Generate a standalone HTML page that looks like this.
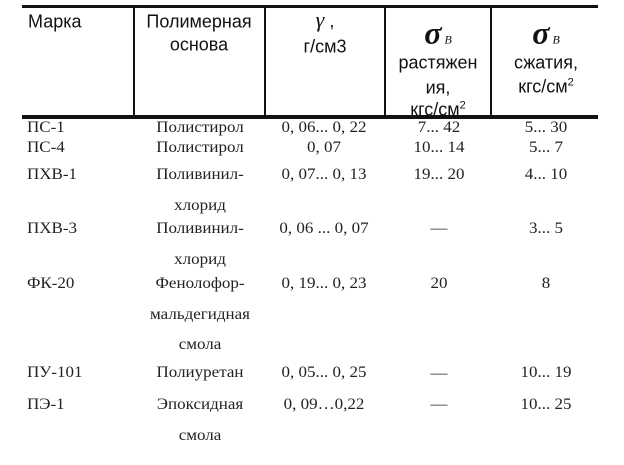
<!DOCTYPE html>
<html><head><meta charset="utf-8"><style>
html,body{margin:0;padding:0;background:#fff;}
#c{position:relative;width:624px;height:465px;overflow:hidden;background:#fff;}
.h{position:absolute;font-family:"Liberation Sans",sans-serif;font-size:18px;color:#111;white-space:nowrap;transform:translate(-50%,-50%);}
.b{position:absolute;font-family:"Liberation Serif",serif;font-size:17px;color:#222;white-space:nowrap;transform:translate(-50%,-50%) scaleY(0.95);}
.l{transform:translate(0,-50%) scaleY(0.95);}
.hl{transform:translate(0,-50%);}
.ln{position:absolute;background:#111;}
.s{position:absolute;font-family:"Liberation Serif",serif;font-style:italic;font-weight:bold;font-size:32px;color:#111;transform:translate(-50%,-50%);white-space:nowrap;}
.s sub{font-size:12px;font-weight:normal;vertical-align:baseline;margin-left:3px;}
sup{font-size:11px;vertical-align:top;}
</style></head><body><div id="c">
<div class="ln" style="left:22px;top:5px;width:576px;height:3px"></div>
<div class="ln" style="left:133px;top:6px;width:2px;height:110px"></div>
<div class="ln" style="left:264px;top:6px;width:2px;height:110px"></div>
<div class="ln" style="left:384px;top:6px;width:2px;height:110px"></div>
<div class="ln" style="left:490px;top:6px;width:2px;height:110px"></div>

<div class="h hl" style="left:28px;top:22px">Марка</div>
<div class="h" style="left:199px;top:22px">Полимерная</div>
<div class="h" style="left:199px;top:45px">основа</div>
<div class="h" style="left:325px;top:20px"><span style="font-family:'Liberation Serif',serif;font-style:italic;font-size:22px">γ</span> ,</div>
<div class="h" style="left:325px;top:47px">г/см3</div>
<div class="s" style="left:438px;top:33px">σ<sub>В</sub></div>
<div class="h" style="left:438px;top:63px">растяжен</div>
<div class="h" style="left:438px;top:88px">ия,</div>
<div class="h" style="left:438px;top:110px">кгс/см<sup>2</sup></div>
<div class="ln" style="left:22px;top:115px;width:576px;height:4px"></div>
<div class="s" style="left:546px;top:33px">σ<sub>В</sub></div>
<div class="h" style="left:546px;top:63px">сжатия,</div>
<div class="h" style="left:546px;top:87px">кгс/см<sup>2</sup></div>

<div class="b l" style="left:27px;top:127px">ПС-1</div>
<div class="b" style="left:200px;top:127px">Полистирол</div>
<div class="b" style="left:324px;top:127px">0, 06... 0, 22</div>
<div class="b" style="left:439px;top:127px">7... 42</div>
<div class="b" style="left:546px;top:127px">5... 30</div>

<div class="b l" style="left:27px;top:147px">ПС-4</div>
<div class="b" style="left:200px;top:147px">Полистирол</div>
<div class="b" style="left:324px;top:147px">0, 07</div>
<div class="b" style="left:439px;top:147px">10... 14</div>
<div class="b" style="left:546px;top:147px">5... 7</div>

<div class="b l" style="left:27px;top:174px">ПХВ-1</div>
<div class="b" style="left:200px;top:174px">Поливинил-</div>
<div class="b" style="left:200px;top:205px">хлорид</div>
<div class="b" style="left:324px;top:174px">0, 07... 0, 13</div>
<div class="b" style="left:439px;top:174px">19... 20</div>
<div class="b" style="left:546px;top:174px">4... 10</div>

<div class="b l" style="left:27px;top:228px">ПХВ-3</div>
<div class="b" style="left:200px;top:228px">Поливинил-</div>
<div class="b" style="left:200px;top:259px">хлорид</div>
<div class="b" style="left:324px;top:228px">0, 06 ... 0, 07</div>
<div class="b" style="left:439px;top:228px">—</div>
<div class="b" style="left:546px;top:228px">3... 5</div>

<div class="b l" style="left:27px;top:283px">ФК-20</div>
<div class="b" style="left:200px;top:283px">Фенолофор-</div>
<div class="b" style="left:200px;top:314px">мальдегидная</div>
<div class="b" style="left:200px;top:344px">смола</div>
<div class="b" style="left:324px;top:283px">0, 19... 0, 23</div>
<div class="b" style="left:439px;top:283px">20</div>
<div class="b" style="left:546px;top:283px">8</div>

<div class="b l" style="left:27px;top:372px">ПУ-101</div>
<div class="b" style="left:200px;top:372px">Полиуретан</div>
<div class="b" style="left:324px;top:372px">0, 05... 0, 25</div>
<div class="b" style="left:439px;top:373px">—</div>
<div class="b" style="left:546px;top:372px">10... 19</div>

<div class="b l" style="left:27px;top:404px">ПЭ-1</div>
<div class="b" style="left:200px;top:404px">Эпоксидная</div>
<div class="b" style="left:200px;top:435px">смола</div>
<div class="b" style="left:324px;top:404px">0, 09…0,22</div>
<div class="b" style="left:439px;top:404px">—</div>
<div class="b" style="left:546px;top:404px">10... 25</div>
</div></body></html>
